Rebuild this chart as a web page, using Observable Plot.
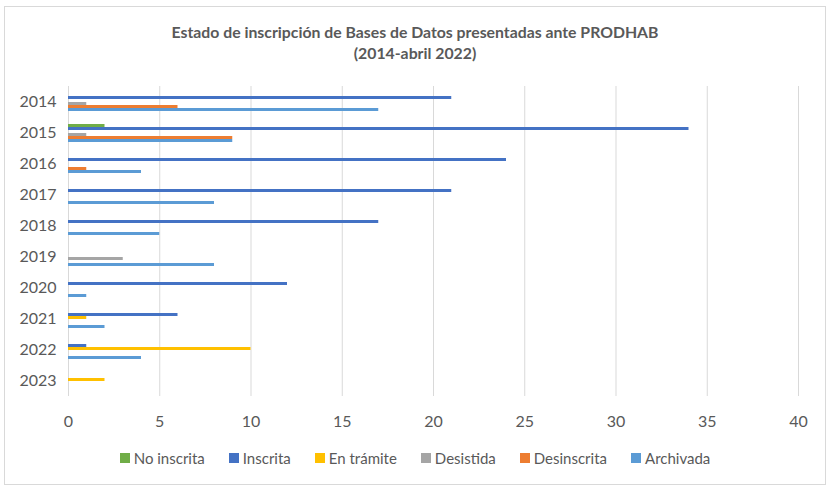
<!DOCTYPE html>
<html>
<head>
<meta charset="utf-8">
<script src="https://cdn.jsdelivr.net/npm/d3@7"></script>
<script src="https://cdn.jsdelivr.net/npm/@observablehq/plot@0.6"></script>
<style>
  html, body { margin: 0; padding: 0; background: #fff; }
  #frame {
    position: absolute; left: 4px; top: 6px; width: 822px; height: 479px;
    box-sizing: border-box; border: 1px solid #d9d9d9; background: #fff;
    font-family: Lato, "Open Sans", sans-serif; color: #595959;
  }
  #title {
    padding-top: 14px; height: 42px; text-align: center;
    font-weight: bold; font-size: 15.8px; line-height: 21px; color: #595959;
  }
  #chart svg { display: block; }
  #legend {
    padding-top: 12px; display: flex; justify-content: center; gap: 24px;
    font-size: 15px; line-height: 20px; color: #595959;
  }
  #legend .item { display: flex; align-items: center; }
  #legend .sw { width: 10px; height: 10px; margin-right: 4px; }
</style>
</head>
<body>
<div id="frame">
  <div id="title">Estado de inscripción de Bases de Datos presentadas ante PRODHAB<br>(2014-abril 2022)</div>
  <div id="chart"></div>
  <div id="legend"></div>
</div>
<script>
const years = ["2014","2015","2016","2017","2018","2019","2020","2021","2022","2023"];
const series = ["No inscrita","Inscrita","En trámite","Desistida","Desinscrita","Archivada"];
const colors = ["#70AD47","#4472C4","#FFC000","#A5A5A5","#ED7D31","#5B9BD5"];
const xTicks = [0,5,10,15,20,25,30,35,40];

const noInscrita  = [0, 2, 0, 0, 0, 0, 0, 0, 0, 0];
const inscrita    = [21,34,24,21,17, 0,12, 6, 1, 0];
const enTramite   = [0, 0, 0, 0, 0, 0, 0, 1,10, 2];
const desistida   = [1, 1, 0, 0, 0, 3, 0, 0, 0, 0];
const desinscrita = [6, 9, 1, 0, 0, 0, 0, 0, 0, 0];
const archivada   = [17,9, 4, 8, 5, 8, 1, 2, 4, 0];

const valuesBySeries = [noInscrita, inscrita, enTramite, desistida, desinscrita, archivada];
const data = [];
years.forEach((yr, i) => {
  series.forEach((s, j) => {
    data.push({year: yr, series: s, value: valuesBySeries[j][i]});
  });
});

const chart = Plot.plot({
  width: 820,
  height: 373,
  marginTop: 22,
  marginBottom: 40,
  marginLeft: 63,
  marginRight: 27,
  style: {fontFamily: "Lato, 'Open Sans', sans-serif", fontSize: "16px", color: "#595959", background: "#fff"},
  facet: {data, y: "year"},
  fy: {domain: years, padding: 0, label: null, tickSize: 0, tickPadding: 12},
  y: {domain: series, axis: null, paddingOuter: 1, paddingInner: 0},
  x: {domain: [0, 40], ticks: xTicks, tickSize: 0, tickPadding: 19, label: null},
  color: {domain: series, range: colors},
  marks: [
    Plot.ruleX(xTicks, {stroke: "#d9d9d9", strokeWidth: 1}),
    Plot.barX(data, {x: "value", y: "series", fill: "series"})
  ]
});
document.getElementById("chart").appendChild(chart);

const legend = document.getElementById("legend");
series.forEach((s, j) => {
  const it = document.createElement("div");
  it.className = "item";
  const sw = document.createElement("span");
  sw.className = "sw";
  sw.style.background = colors[j];
  const tx = document.createElement("span");
  tx.textContent = s;
  it.appendChild(sw); it.appendChild(tx);
  legend.appendChild(it);
});
</script>
</body>
</html>
